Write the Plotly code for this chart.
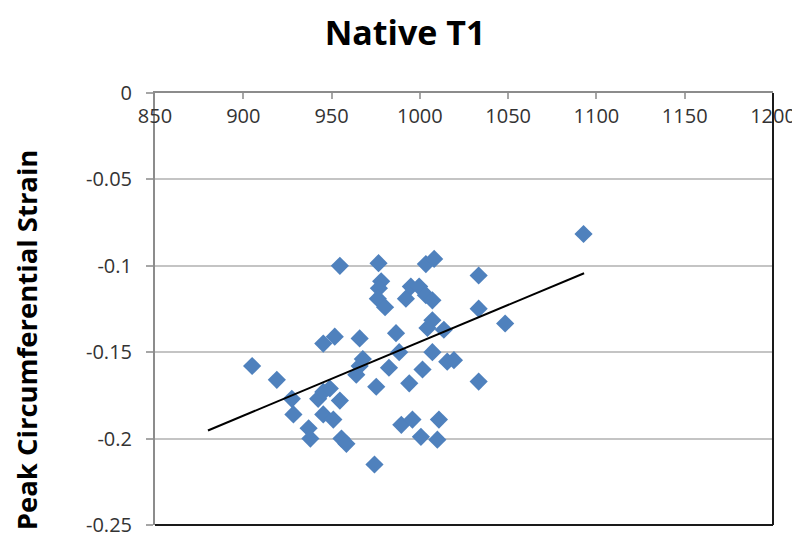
import plotly.graph_objects as go

# Native T1 (ms) vs peak circumferential strain
native_t1 = [905, 919, 927.5, 928.4, 937, 938, 942.4, 945.3, 945.3, 945.3,
             949, 951, 951.8, 954.7, 954.7, 955.6, 958.4, 964, 965.9, 965.9,
             967.7, 974.3, 975.3, 976.6, 978.1, 976.8, 976.2, 980.3, 982.5, 986.5,
             988.3, 989.5, 992.1, 994.9, 999.6, 994, 995.8, 1000.6, 1001.5, 1003.4,
             1008.1, 1003.4, 1007.1, 1007.1, 1004.3, 1013.6, 1007.1, 1009.9, 1010.8, 1015.5,
             1019.3, 1033.3, 1033.3, 1033.3, 1048.3, 1092.7]
strain = [-0.158, -0.166, -0.177, -0.186, -0.194, -0.200, -0.177, -0.145, -0.173, -0.186,
          -0.171, -0.189, -0.141, -0.100, -0.178, -0.200, -0.203, -0.163, -0.158, -0.142,
          -0.154, -0.215, -0.170, -0.0985, -0.109, -0.113, -0.119, -0.124, -0.159, -0.139,
          -0.150, -0.192, -0.119, -0.112, -0.112, -0.168, -0.189, -0.199, -0.160, -0.099,
          -0.096, -0.117, -0.120, -0.1315, -0.136, -0.137, -0.150, -0.2006, -0.189, -0.1555,
          -0.1546, -0.1056, -0.1248, -0.167, -0.1334, -0.0816]

# Linear trendline end points
trend_x = [880, 1093]
trend_y = [-0.1953, -0.1043]

x_ticks = [850, 900, 950, 1000, 1050, 1100, 1150, 1200]
x_ticktext = ["850", "900", "950", "1000", "1050", "1100", "1150", "1200"]
y_ticks = [0, -0.05, -0.1, -0.15, -0.2, -0.25]
y_ticktext = ["0", "-0.05", "-0.1", "-0.15", "-0.2", "-0.25"]

FONT = "Open Sans"

fig = go.Figure()
fig.add_trace(go.Scatter(
    x=native_t1, y=strain, mode="markers",
    marker=dict(symbol="diamond", size=14, color="#4F81BD", line=dict(width=0)),
    showlegend=False, hoverinfo="x+y"))
fig.add_trace(go.Scatter(
    x=trend_x, y=trend_y, mode="lines",
    line=dict(color="#000000", width=2),
    showlegend=False, hoverinfo="skip"))

fig.update_layout(
    width=800, height=542,
    margin=dict(l=147, r=30, t=85, b=22),
    paper_bgcolor="white", plot_bgcolor="white",
    font=dict(family=FONT, size=20, color="#333333"),
    title=dict(text="<b>Native T1</b>", x=397 / 800, xanchor="center",
               y=1 - 25 / 542, yanchor="middle",
               font=dict(family=FONT, size=34, color="#000000")),
    xaxis=dict(
        range=[850, 1200], side="top",
        tickmode="array", tickvals=x_ticks, ticktext=x_ticktext,
        ticks="inside", ticklen=6, tickwidth=2, tickcolor="#A6A6A6",
        ticklabelposition="inside", ticklabeloverflow="allow",
        ticklabelstandoff=11,
        showline=True, linecolor="#8C8C8C", linewidth=2,
        showgrid=False, zeroline=False,
        tickfont=dict(family=FONT, size=20, color="#333333")),
    yaxis=dict(
        range=[-0.25, 0],
        tickmode="array", tickvals=y_ticks, ticktext=y_ticktext,
        ticks="outside", ticklen=7, tickwidth=2, tickcolor="#A6A6A6",
        ticklabelstandoff=10,
        showline=True, linecolor="#8C8C8C", linewidth=2,
        showgrid=True, gridcolor="#C4C4C4", gridwidth=2,
        zeroline=False,
        tickfont=dict(family=FONT, size=20, color="#333333")),
    shapes=[
        dict(type="line", xref="paper", yref="paper", x0=1, x1=1, y0=0, y1=1,
             line=dict(color="#1A1A1A", width=2), layer="above"),
        dict(type="line", xref="paper", yref="paper", x0=0, x1=1, y0=0, y1=0,
             line=dict(color="#1A1A1A", width=2), layer="above"),
    ],
    annotations=[
        dict(text="<b>Peak Circumferential Strain</b>", textangle=-90,
             xref="paper", yref="paper",
             x=(17 - 147) / 623, y=(520 - 334) / 435,
             xanchor="center", yanchor="middle", showarrow=False,
             font=dict(family=FONT, size=27.5, color="#000000")),
    ],
)

fig.write_html("out.html")
